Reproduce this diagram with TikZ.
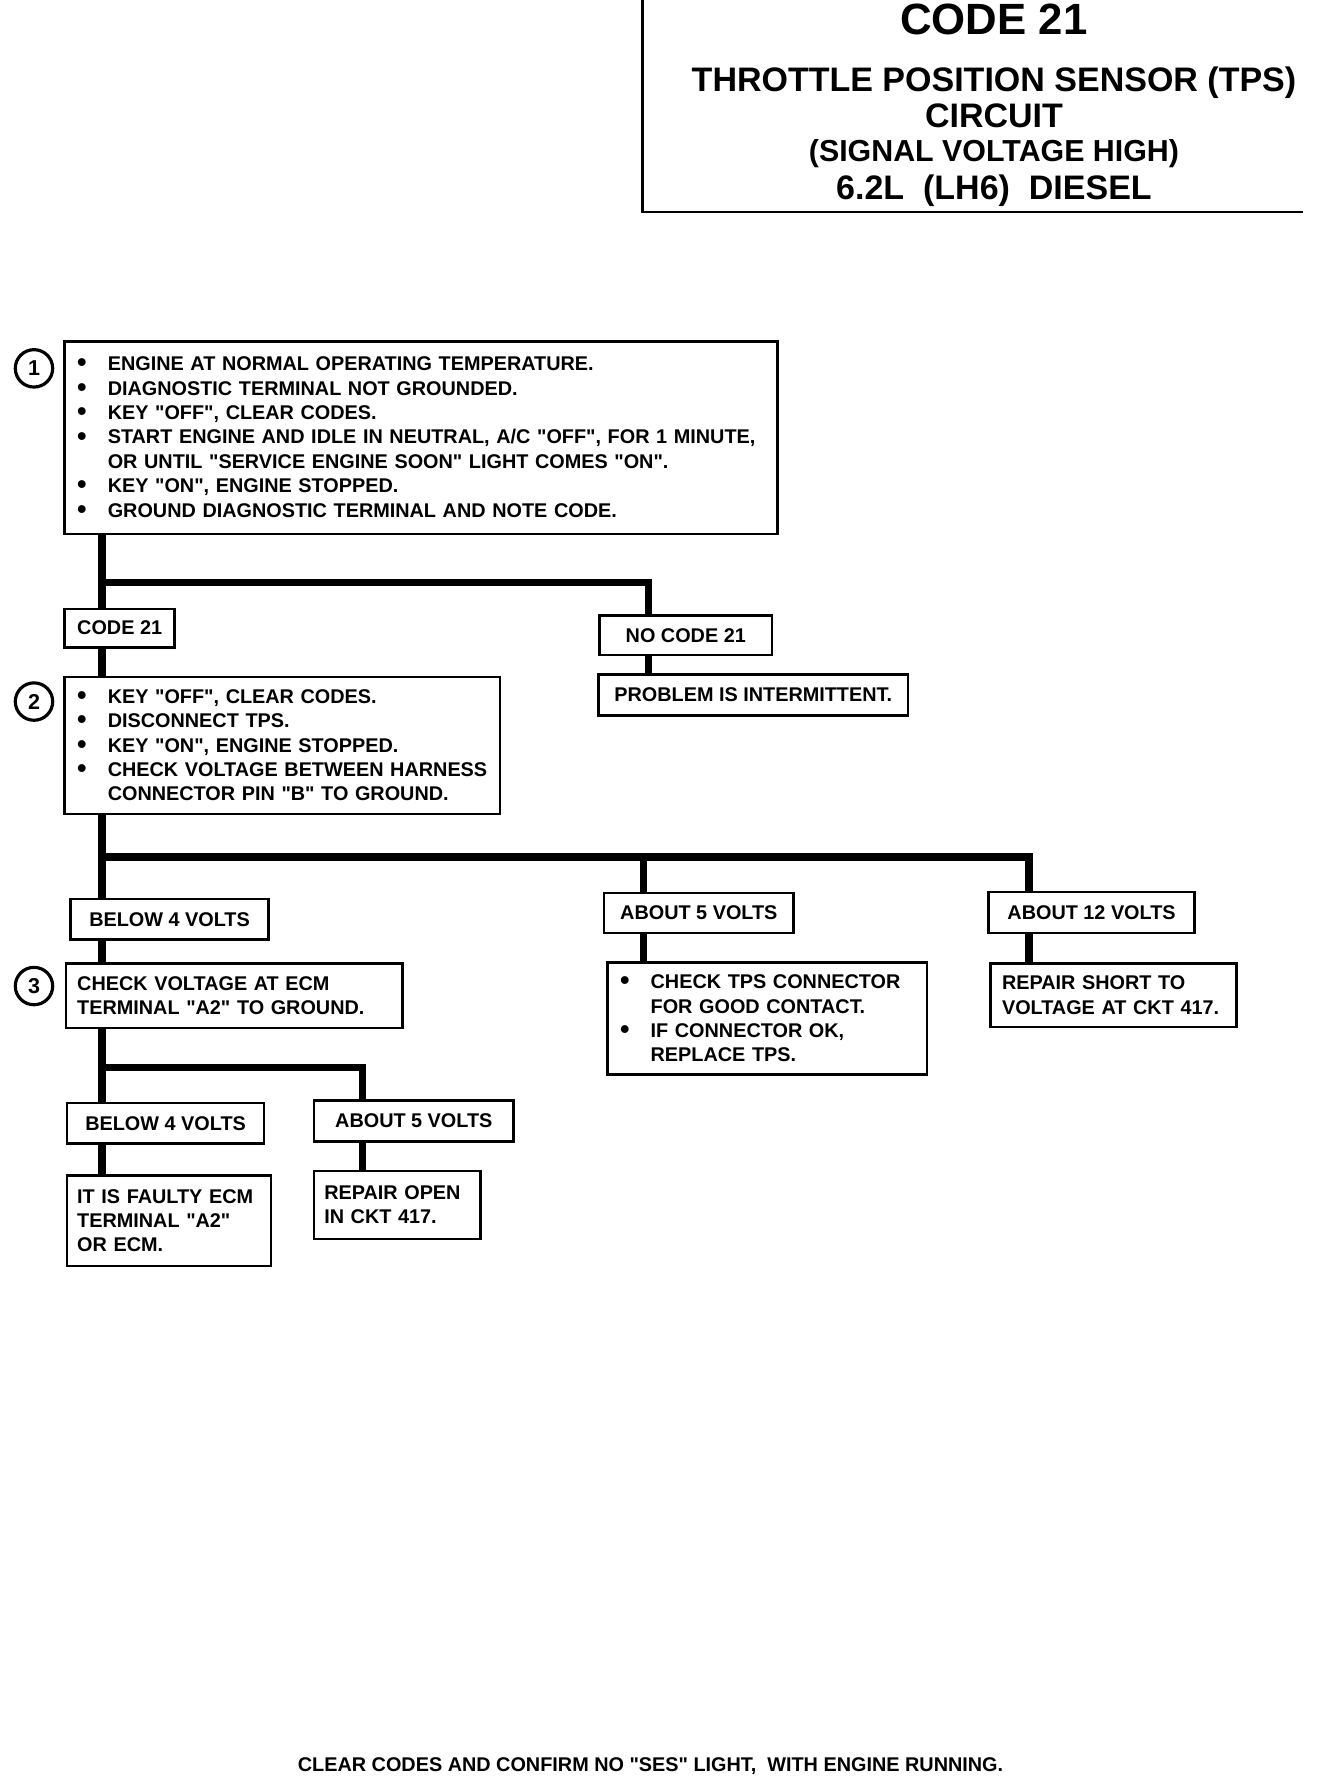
\documentclass[tikz,border=0pt]{standalone}
\usepackage{fontspec}
\setmainfont{Liberation Sans}[Ligatures=TeXOff]
\usetikzlibrary{positioning,calc}

\newcommand{\bul}{\makebox[27pt][l]{\raisebox{-1pt}{\fontsize{24}{0}\selectfont\textbullet}}}
\newcommand{\ind}{\hspace*{27pt}}

\begin{document}
\begin{tikzpicture}[x=1pt, y=-1pt,
    every node/.style={font=\fontsize{17.5}{21.5}\selectfont\bfseries},
    box/.style={draw, line width=2.2pt, anchor=north west, align=left, inner xsep=10pt, inner ysep=0pt},
    tag/.style={draw, line width=2.2pt, anchor=north west, align=center, inner sep=0pt},
    num/.style={circle, draw, line width=2.8pt, minimum size=33pt, inner sep=0pt},
    link/.style={line width=6.5pt}]

    \useasboundingbox (0,0) rectangle (1172,1567);

    % title block
    \draw[line width=2.5pt] (567,0) -- (567,187) -- (1150,187);
    \node[anchor=base, font=\fontsize{38.6}{40}\selectfont\bfseries] (code) at (877,30.8) {CODE 21};
    \node[anchor=base, font=\fontsize{30}{32}\selectfont\bfseries] (tps) at (877,80.7) {THROTTLE POSITION SENSOR (TPS)};
    \node[anchor=base, font=\fontsize{30}{32}\selectfont\bfseries] (circ) at (877,112.7) {CIRCUIT};
    \node[anchor=base, font=\fontsize{26.8}{28}\selectfont\bfseries] (sig) at (877,142.6) {(SIGNAL VOLTAGE HIGH)};
    \node[anchor=base, font=\fontsize{30}{32}\selectfont\bfseries] (eng) at (877,175.7) {6.2L\ \ (LH6)\ \ DIESEL};

    % step 1
    \node[num, font=\fontsize{19}{20}\selectfont\bfseries] (n1) at (30,325) {1};
    \node[box, inner xsep=11pt, text width=607pt, minimum height=170pt] (b1) at (56,300)
        {\bul ENGINE AT NORMAL OPERATING TEMPERATURE.\\
         \bul DIAGNOSTIC TERMINAL NOT GROUNDED.\\
         \bul KEY "OFF", CLEAR CODES.\\
         \bul START ENGINE AND IDLE IN NEUTRAL, A/C "OFF", FOR 1 MINUTE,\\
         \ind OR UNTIL "SERVICE ENGINE SOON" LIGHT COMES "ON".\\
         \bul KEY "ON", ENGINE STOPPED.\\
         \bul GROUND DIAGNOSTIC TERMINAL AND NOTE CODE.};

    \node[tag, minimum width=97pt, minimum height=34pt] (yes21) at (56,536) {CODE 21};
    \node[tag, minimum width=152pt, minimum height=35pt] (no21) at (528,542) {NO CODE 21};
    \node[tag, minimum width=273pt, minimum height=36pt] (interm) at (527,594) {PROBLEM IS INTERMITTENT.};

    % step 2
    \node[num, font=\fontsize{19}{20}\selectfont\bfseries] (n2) at (30,619) {2};
    \node[box, inner xsep=11pt, text width=362pt, minimum height=121pt] (b2) at (56,596)
        {\bul KEY "OFF", CLEAR CODES.\\
         \bul DISCONNECT TPS.\\
         \bul KEY "ON", ENGINE STOPPED.\\
         \bul CHECK VOLTAGE BETWEEN HARNESS\\
         \ind CONNECTOR PIN "B" TO GROUND.};

    \node[tag, minimum width=175pt, minimum height=36pt] (low1) at (61,792) {BELOW 4 VOLTS};
    \node[tag, minimum width=167pt, minimum height=35pt] (mid1) at (532,787) {ABOUT 5 VOLTS};
    \node[tag, minimum width=182pt, minimum height=36pt] (high1) at (871,786) {ABOUT 12 VOLTS};

    % step 3
    \node[num, font=\fontsize{19}{20}\selectfont\bfseries] (n3) at (30,870) {3};
    \node[box, text width=277pt, minimum height=57pt] (b3) at (57,849)
        {CHECK VOLTAGE AT ECM\\ TERMINAL "A2" TO GROUND.};
    \node[box, inner xsep=11pt, text width=260pt, minimum height=99pt] (chk) at (535,848)
        {\bul CHECK TPS CONNECTOR\\
         \ind FOR GOOD CONTACT.\\
         \bul IF CONNECTOR OK,\\
         \ind REPLACE TPS.};
    \node[box, text width=197pt, minimum height=56pt] (short) at (873,849)
        {REPAIR SHORT TO\\ VOLTAGE AT CKT 417.};

    \node[tag, minimum width=174pt, minimum height=36pt] (low2) at (58,972) {BELOW 4 VOLTS};
    \node[tag, minimum width=176pt, minimum height=36pt] (mid2) at (276,970) {ABOUT 5 VOLTS};
    \node[box, inner xsep=9pt, text width=162pt, minimum height=80pt] (ecm) at (58,1036)
        {IT IS FAULTY ECM\\ TERMINAL "A2"\\ OR ECM.};
    \node[box, inner xsep=9pt, text width=129pt, minimum height=60pt] (open) at (276,1032)
        {REPAIR OPEN\\ IN CKT 417.};

    \node[anchor=base] (foot) at (574,1563) {CLEAR CODES AND CONFIRM NO "SES" LIGHT,\ \ WITH ENGINE RUNNING.};

    % branch points
    \coordinate (t1) at (90,514);
    \coordinate (t1r) at (572,514);
    \coordinate (t2) at (90,756);
    \coordinate (t2m) at (568,756);
    \coordinate (t2r) at (908,756);
    \coordinate (t3) at (90,942);
    \coordinate (t3r) at (320,942);

    % flow lines
    \draw[link] (b1.south -| t1) -- (yes21.north -| t1);
    \draw[link] (t1) -- (t1r) -- (no21.north -| t1r);
    \draw[link] (no21.south -| t1r) -- (interm.north -| t1r);
    \draw[link] (yes21.south -| t1) -- (b2.north -| t1);
    \draw[link] (b2.south -| t2) -- (low1.north -| t2);
    \draw[link] (t2) -- (t2r) -- (high1.north -| t2r);
    \draw[link] (t2m) -- (mid1.north -| t2m);
    \draw[link] (low1.south -| t2) -- (b3.north -| t2);
    \draw[link] (mid1.south -| t2m) -- (chk.north -| t2m);
    \draw[link] (high1.south -| t2r) -- (short.north -| t2r);
    \draw[link] (b3.south -| t3) -- (low2.north -| t3);
    \draw[link] (t3) -- (t3r) -- (mid2.north -| t3r);
    \draw[link] (low2.south -| t3) -- (ecm.north -| t3);
    \draw[link] (mid2.south -| t3r) -- (open.north -| t3r);

\end{tikzpicture}
\end{document}
